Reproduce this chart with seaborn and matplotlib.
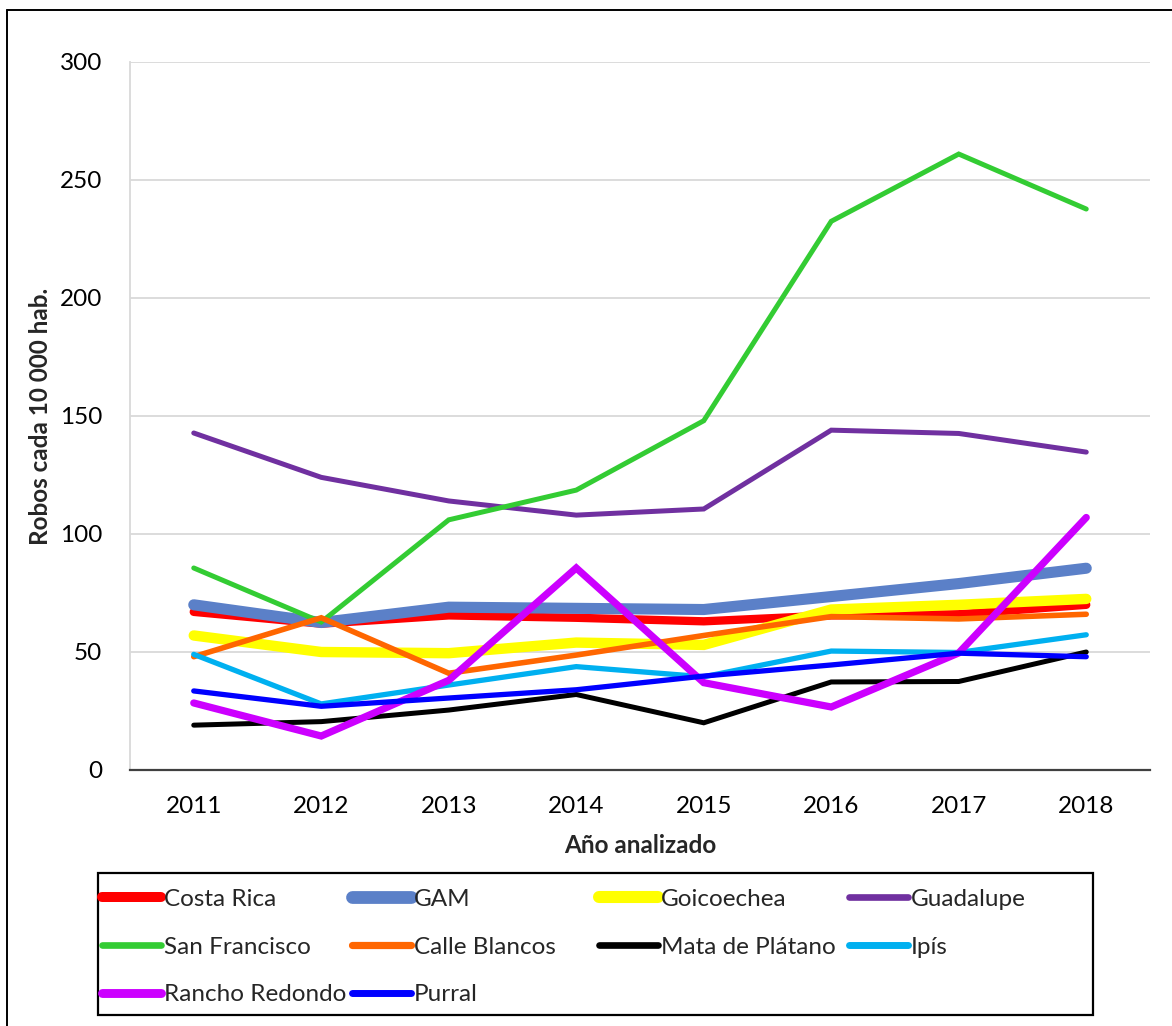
import matplotlib
matplotlib.use("Agg")
import matplotlib.pyplot as plt
from matplotlib.lines import Line2D
from matplotlib.patches import Rectangle
import seaborn as sns
import pandas as pd

# Datos (robos cada 10 000 hab.)
anios = [2011, 2012, 2013, 2014, 2015, 2016, 2017, 2018]
costa_rica = [67, 62, 65.5, 64.5, 63, 65.5, 66, 70]
gam = [70, 62.5, 69, 68.5, 68, 73.5, 79, 85.5]
goicoechea = [57, 50, 49.5, 54, 53, 68, 70, 72.5]
guadalupe = [142.8, 124, 114, 108, 110.6, 144, 142.6, 134.7]
san_francisco = [85.6, 62.7, 106, 118.6, 148, 232.5, 261, 237.7]
calle_blancos = [48, 64.5, 41, 48.7, 57, 65, 64, 66]
mata_platano = [19, 20.5, 25.4, 32, 20, 37.3, 37.5, 50]
ipis = [49, 28, 36, 43.8, 39.5, 50.4, 49.8, 57.3]
rancho_redondo = [28.4, 14.4, 38, 85.6, 37, 26.7, 49.6, 107]
purral = [33.5, 27, 30.5, 34, 39.8, 44.5, 49.5, 48]

nombres = ['Costa Rica', 'GAM', 'Goicoechea', 'Guadalupe', 'San Francisco',
           'Calle Blancos', 'Mata de Plátano', 'Ipís', 'Rancho Redondo', 'Purral']
series = [costa_rica, gam, goicoechea, guadalupe, san_francisco,
          calle_blancos, mata_platano, ipis, rancho_redondo, purral]
colores = ['#FF0000', '#5B80C8', '#FFFF00', '#7030A0', '#33CC33',
           '#FF6600', '#000000', '#00B0F0', '#CC00FF', '#0000FF']
grosores = [6.0, 8.0, 7.5, 3.6, 3.6, 4.0, 3.6, 3.8, 5.2, 3.8]

df = pd.DataFrame({'Año': anios * len(nombres),
                   'Valor': sum(series, []),
                   'Zona': [n for n in nombres for _ in anios]})

sns.set_style("white")
plt.rcParams['font.family'] = ['Lato', 'DejaVu Sans']
tam = 17.5

fig = plt.figure(figsize=(11.72, 10.26), dpi=100)
ax = fig.add_axes([130 / 1172, 1 - 770 / 1026, 1020 / 1172, 708 / 1026])

for nombre, color, lw in zip(nombres, colores, grosores):
    sns.lineplot(data=df[df['Zona'] == nombre], x='Año', y='Valor',
                 color=color, linewidth=lw, ax=ax, solid_capstyle='round',
                 solid_joinstyle='miter', label=nombre, legend=False)

ax.set_xlim(2010.5, 2018.5)
ax.set_ylim(0, 300)
ax.set_yticks([0, 50, 100, 150, 200, 250, 300])
ax.set_xticks(anios)
ax.grid(axis='y', color='#D9D9D9', linewidth=1.3)
ax.set_axisbelow(True)
for s in ['top', 'right']:
    ax.spines[s].set_visible(False)
ax.spines['left'].set_color('#D9D9D9')
ax.spines['left'].set_linewidth(1.3)
ax.spines['bottom'].set_color('#404040')
ax.spines['bottom'].set_linewidth(1.6)
ax.tick_params(axis='both', length=0, labelsize=tam, colors='black')
ax.tick_params(axis='x', pad=19)
ax.tick_params(axis='y', pad=20)

ax.set_xlabel('Año analizado', fontsize=tam, fontweight='bold')
ax.set_ylabel('Robos cada 10 000 hab.', fontsize=tam, fontweight='bold')
ax.xaxis.set_label_coords(0.5, -0.106)
ax.yaxis.set_label_coords(-0.088, 0.5)
ax.xaxis.label.set_va('center')
ax.yaxis.label.set_va('center')

# Leyenda en 4 columnas de igual ancho, con marco
columnas = [[0, 4, 8], [1, 5, 9], [2, 6], [3, 7]]
x_cols = [97, 347, 594, 844]
for col, x0 in zip(columnas, x_cols):
    handles = [Line2D([0], [0], color=colores[i], linewidth=grosores[i] + 1.2,
                      solid_capstyle='round') for i in col]
    leg = fig.legend(handles, [nombres[i] for i in col], loc='upper left',
                     bbox_to_anchor=(x0 / 1172, 1 - 884 / 1026),
                     frameon=False, fontsize=tam, handlelength=2.45,
                     handletextpad=0.1, labelspacing=1.1, borderpad=0.2,
                     borderaxespad=0)
fig.add_artist(Rectangle((98 / 1172, 1 - 1015 / 1026), 995 / 1172, 142 / 1026,
                         transform=fig.transFigure, fill=False,
                         edgecolor='black', linewidth=1.6))

# Borde exterior del gráfico
fig.add_artist(Line2D([7 / 1172, 1], [1 - 10 / 1026, 1 - 10 / 1026],
                      transform=fig.transFigure, color='black', linewidth=1.4))
fig.add_artist(Line2D([7 / 1172, 7 / 1172], [0, 1 - 10 / 1026],
                      transform=fig.transFigure, color='black', linewidth=1.4))

fig.savefig('out.png', dpi=100)
